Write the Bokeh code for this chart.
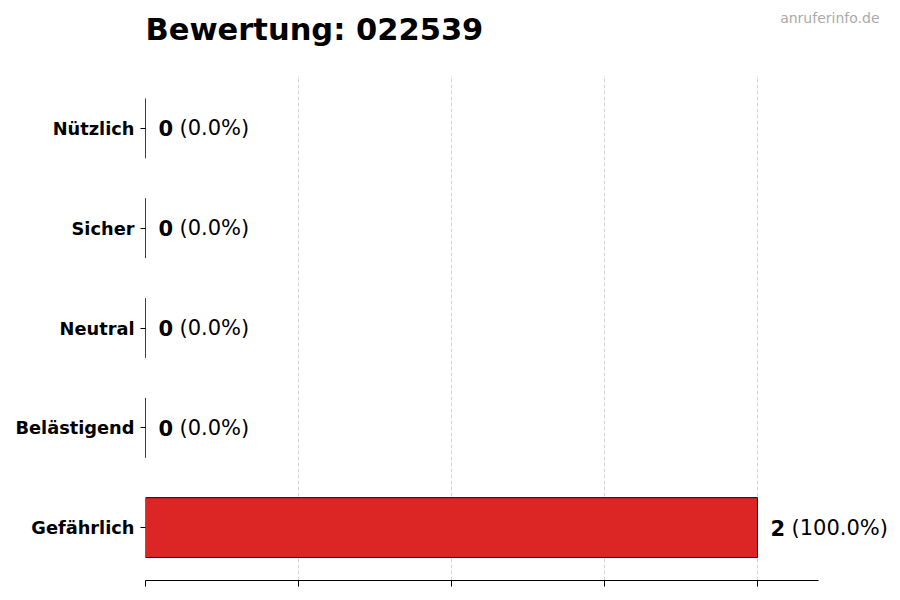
from bokeh.plotting import figure
from bokeh.models import ColumnDataSource, FactorRange, FixedTicker, Label
from bokeh.core.properties import value
from bokeh.embed import file_html
from bokeh.resources import INLINE

# datos
categorias = ['Gefährlich', 'Belästigend', 'Neutral', 'Sicher', 'Nützlich']
valores = [2, 0, 0, 0, 0]
total = sum(valores)
porcentajes = ['(%.1f%%)' % (100.0 * v / total) for v in valores]
ticks_x = [0, 0.5, 1, 1.5, 2]
x_max = 2.2
titulo = "Bewertung: 022539"
marca = "anruferinfo.de"

source = ColumnDataSource(dict(
    cat=categorias,
    val=valores,
    cero=[0] * len(valores),
    num=[str(v) for v in valores],
    pct=porcentajes,
))

FUENTE = "DejaVu Sans"

# el marco se alarga hacia la derecha para que quepan las etiquetas;
# el eje x se limita con bounds a 0..x_max
p = figure(width=895, height=595,
           frame_width=750, frame_height=505,
           y_range=FactorRange(*categorias, range_padding=0.012),
           x_range=(0, 750 / 306.0),
           output_backend="svg", toolbar_location=None,
           min_border_left=145, min_border_right=0,
           min_border_top=75, min_border_bottom=15)
p.title = None
p.outline_line_color = None
p.background_fill_color = "white"

# barras
p.hbar(y='cat', left='cero', right='val', height=0.6, source=source,
       fill_color="#dc2626", line_color="black", line_width=1)

# etiquetas de valor: cifra en negrita + porcentaje
p.text(x='val', y='cat', text='num', source=source,
       x_offset=13, text_baseline='middle', text_align='left',
       text_font=value(FUENTE), text_font_style='bold',
       text_font_size='21px', text_color='black')
p.text(x='val', y='cat', text='pct', source=source,
       x_offset=34, text_baseline='middle', text_align='left',
       text_font=value(FUENTE), text_font_size='21px',
       text_color='black')

# ejes
p.xaxis.ticker = FixedTicker(ticks=ticks_x)
p.xaxis.bounds = (0, x_max)
p.xaxis.major_label_overrides = {t: '' for t in ticks_x}
p.xaxis.major_tick_out = 6
p.xaxis.major_tick_in = 0
p.xaxis.minor_tick_out = 0
p.xaxis.axis_line_color = 'black'
p.xaxis.major_label_standoff = 0

p.yaxis.axis_line_color = None
p.yaxis.major_tick_out = 5
p.yaxis.major_tick_in = 0
p.yaxis.major_label_standoff = 6
p.yaxis.major_label_text_font = FUENTE
p.yaxis.major_label_text_font_style = 'bold'
p.yaxis.major_label_text_font_size = '17.8px'
p.yaxis.major_label_text_color = 'black'

# rejilla
p.ygrid.grid_line_color = None
p.xgrid.grid_line_color = '#cccccc'
p.xgrid.grid_line_dash = "4 2"
p.xgrid.grid_line_width = 0.8

# titulo y marca de agua en el panel superior (coordenadas del lienzo)
p.add_layout(Label(x=145, y=29, x_units='canvas', y_units='canvas',
                   text=titulo, text_font=FUENTE, text_font_style='bold',
                   text_font_size='30.5px', text_color='black',
                   text_align='left', text_baseline='alphabetic'), 'above')
p.add_layout(Label(x=879, y=17.5, x_units='canvas', y_units='canvas',
                   text=marca, text_font=FUENTE,
                   text_font_size='14px', text_color='#aaaaaa',
                   text_align='right', text_baseline='alphabetic'), 'above')

open("out.html", "w").write(file_html(p, INLINE))
